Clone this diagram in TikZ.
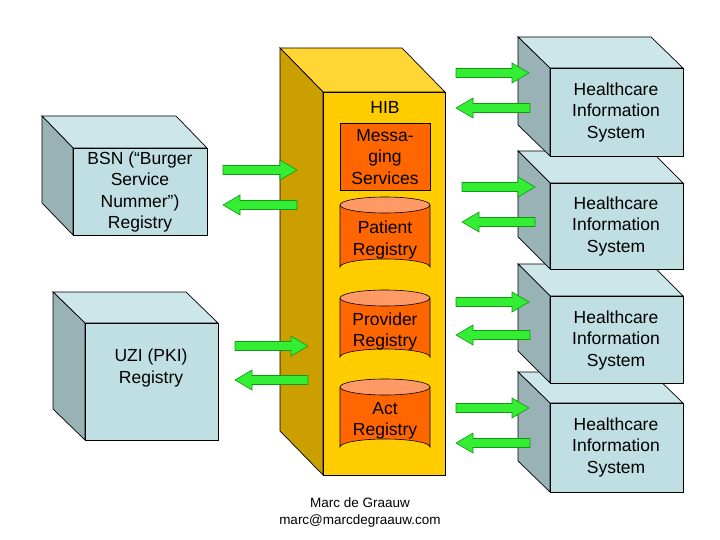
\documentclass[tikz,border=0pt]{standalone}
\usepackage{fontspec}
\setmainfont{Liberation Sans}
\begin{document}
\begin{tikzpicture}[x=1pt,y=-1pt,line join=miter,
  boxfront/.style={fill=boxF,draw=black,line width=0.7pt},
  boxtop/.style={fill=boxT,draw=black,line width=0.7pt},
  boxside/.style={fill=boxS,draw=black,line width=0.7pt},
  garrow/.style={fill=arrG,draw=arrD,line width=0.6pt},
  lbl/.style={align=center,font=\fontsize{17.5}{21.5}\selectfont},
  cyl/.style={fill=orng,draw=black,line width=0.6pt}]
\definecolor{boxF}{HTML}{BFDFE3}
\definecolor{boxT}{HTML}{CCE6E9}
\definecolor{boxS}{HTML}{98B2B5}
\definecolor{arrG}{HTML}{33EE33}
\definecolor{arrD}{HTML}{119911}
\definecolor{hibF}{HTML}{FFCC00}
\definecolor{hibS}{HTML}{CC9F00}
\definecolor{hibT}{HTML}{FFD633}
\definecolor{orng}{HTML}{FF6600}
\definecolor{orngT}{HTML}{FF9966}
\useasboundingbox (0,0) rectangle (720,540);
\fill[white] (0,0) rectangle (720,540);
\newcommand\mycube[6]{%
  \draw[boxtop] (#1-#5,#3-#6) -- (#2-#5,#3-#6) -- (#2,#3) -- (#1,#3) -- cycle;
  \draw[boxside] (#1-#5,#3-#6) -- (#1,#3) -- (#1,#4) -- (#1-#5,#4-#6) -- cycle;
  \draw[boxfront] (#1,#3) rectangle (#2,#4);}
\newcommand\rarr[3]{\draw[garrow] (#1,#3-4.5) -- (#2-17,#3-4.5) -- (#2-17,#3-10) -- (#2,#3) -- (#2-17,#3+10) -- (#2-17,#3+4.5) -- (#1,#3+4.5) -- cycle;}
\newcommand\larr[3]{\draw[garrow] (#2,#3-4.5) -- (#1+17,#3-4.5) -- (#1+17,#3-10) -- (#1,#3) -- (#1+17,#3+10) -- (#1+17,#3+4.5) -- (#2,#3+4.5) -- cycle;}
\newcommand\mycyl[3]{%
  \draw[cyl] (340,#1) -- (340,#2) arc[start angle=180,end angle=360,x radius=45,y radius=8] -- (430,#1);
  \draw[cyl,fill=orngT] (385,#1) ellipse[x radius=45,y radius=8];
  \node[lbl,text=black] at (385,{(#1+#2)/2+4}) {#3};}
% HIB
\draw[fill=hibT,draw=black,line width=0.7pt] (280,48) -- (402,48) -- (445,92) -- (323,92) -- cycle;
\draw[fill=hibS,draw=black,line width=0.7pt] (280,48) -- (323,92) -- (323,475) -- (280,431) -- cycle;
\draw[fill=hibF,draw=black,line width=0.7pt] (323,92) rectangle (445,475);
\node[lbl] (hib) at (385,107) {HIB};
\draw[fill=orng,draw=black,line width=0.6pt] (340,123) rectangle (430,190);
\node[lbl] (msg) at (385,157) {Messa-\\ging\\Services};
\mycyl{205}{267}{Patient\\Registry}
\mycyl{298}{357}{Provider\\Registry}
\mycyl{387}{447}{Act\\Registry}
% left boxes
\mycube{73}{207}{148}{235}{31}{32}
\node[lbl] (bsn) at (140,192) {BSN (“Burger\\Service\\Nummer”)\\Registry};
\mycube{85}{218}{323}{440}{32}{31}
\node[lbl] (uzi) at (151,368) {UZI (PKI)\\Registry};
% right boxes (lower first)
\mycube{550}{683}{403}{492}{32}{31}
\mycube{550}{683}{296}{383}{32}{32}
\mycube{550}{683}{183}{269}{32}{32}
\mycube{550}{683}{68}{156}{32}{31}
\node[lbl] (h1) at (616,112) {Healthcare\\Information\\System};
\node[lbl] (h2) at (616,226) {Healthcare\\Information\\System};
\node[lbl] (h3) at (616,340) {Healthcare\\Information\\System};
\node[lbl] (h4) at (616,447) {Healthcare\\Information\\System};
% arrows
\rarr{223}{297}{170}\larr{223}{297}{205}
\rarr{235}{308}{346}\larr{235}{308}{380}
\rarr{456}{529}{73}\larr{456}{530}{108}
\rarr{462}{535}{187}\larr{462}{535}{222}
\rarr{456}{529}{302}\larr{456}{530}{335}
\rarr{456}{529}{408}\larr{456}{530}{443}
\node[align=center,font=\fontsize{13.5}{17}\selectfont] (foot) at (360,513) {Marc de Graauw\\marc@marcdegraauw.com};
\end{tikzpicture}
\end{document}
